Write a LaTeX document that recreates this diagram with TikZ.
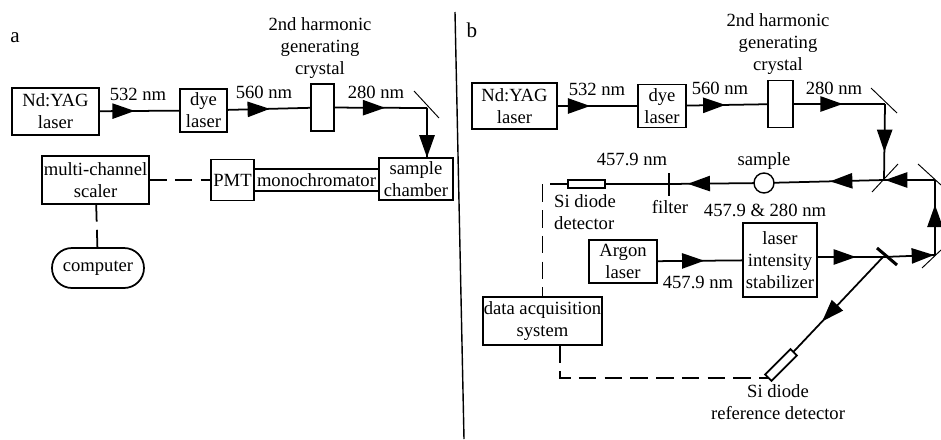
\documentclass[tikz,border=0pt]{standalone}
\usepackage{fontspec}
\setmainfont{Liberation Serif}
\usepackage{tikz}
\usetikzlibrary{arrows.meta,positioning,decorations.markings}

\begin{document}
\begin{tikzpicture}[x=0.03cm,y=-0.03cm,
  every node/.style={font=\fontsize{15.9}{18.9}\selectfont,align=center,inner sep=0pt,outer sep=0pt},
  box/.style 2 args={draw,line width=1.5pt,minimum width=#1,minimum height=#2},
  beam/.style={line width=1.5pt,postaction={decorate,decoration={markings,
    mark=at position #1 with {\arrow{Triangle[length=19pt,width=13pt]}}}}},
  sig/.style={line width=1.5pt,dash pattern=on 15pt off 7pt},
  mirr/.style={line width=0.8pt}]
\useasboundingbox (0,0) rectangle (941,439);
\draw[line width=1.2pt] (455,12) coordinate (divtop) -- (464,439) coordinate (divbot);
\node (labA) at (15,38) {\fontsize{18}{20}\selectfont a};
\node (labB) at (472,30) {\fontsize{18}{20}\selectfont b};
\node[box={2.61cm}{1.41cm}] (yagA) at (55.5,111.5) {Nd:YAG\\laser};
\node[box={1.41cm}{1.29cm},right=2.43cm of yagA,yshift=.03cm] (dyeA) {dye\\laser};
\node[box={0.69cm}{1.41cm},right=2.52cm of dyeA,yshift=.09cm] (cryA) {};
\coordinate (mA) at (427,108);
\node[box={2.22cm}{1.26cm}] (chamA) at (416,179) {sample\\chamber};
\node[box={3.75cm}{0.66cm},left=0cm of chamA,yshift=-.03cm] (monoA) {monochromator};
\node[box={1.29cm}{1.23cm},left=0cm of monoA] (pmtA) {PMT};
\node[box={3.21cm}{1.44cm},left=1.86cm of pmtA] (mcsA) {multi-channel\\scaler};
\node[box={2.76cm}{1.2cm},rounded corners=0.6cm,below=1.32cm of mcsA,xshift=.075cm] (compA) {computer};
\node (hgA) at (320,48) {2nd harmonic\\generating\\crystal};
\node (w1A) at (138,94) {532 nm};
\node (w2A) at (264,92) {560 nm};
\node (w3A) at (376,92) {280 nm};
\draw[beam=.44] (yagA)--(dyeA);
\draw[beam=.51] (dyeA)--(cryA);
\draw[beam=.55] (cryA)--(mA);
\draw[mirr] (mA) +(-13,-17) -- +(12,10);
\draw[beam=.99] (mA)--(mA |- chamA.north);
\draw[sig] (mcsA)--(pmtA);
\draw[sig] (mcsA)--(compA);
\node[box={2.55cm}{1.38cm}] (yagB) at (514.5,106) {Nd:YAG\\laser};
\node[box={1.44cm}{1.29cm},right=2.43cm of yagB] (dyeB) {dye\\laser};
\node[box={0.75cm}{1.41cm},right=2.46cm of dyeB,yshift=.06cm] (cryB) {};
\coordinate (m1B) at (885,104);
\coordinate (spB) at (884,180);
\coordinate (m2B) at (935,180);
\coordinate (m3B) at (935,255);
\coordinate (sp2B) at (883,257);
\node (hgB) at (778,44) {2nd harmonic\\generating\\crystal};
\node (w1B) at (597,89) {532 nm};
\node (w2B) at (720,88) {560 nm};
\node (w3B) at (834,88) {280 nm};
\draw[beam=.41] (yagB)--(dyeB);
\draw[beam=.48] (dyeB)--(cryB);
\draw[beam=.54] (cryB)--(m1B);
\draw[mirr] (m1B) +(-14,-16) -- +(12,9);
\draw[beam=.63] (m1B)--(spB);
\draw[mirr] (spB) +(-12,12) -- +(14,-16);
\draw[mirr] (m2B) +(-17,-16) -- +(6,5);
\draw[mirr] (m3B) +(-13,13) -- +(6,-5);
\draw[beam=.67] (m3B)--(m2B);
\draw[beam=.98] (m2B)--(spB);
\node[draw,line width=1.2pt,circle,minimum size=0.6cm] (samB) at (764,183) {};
\node (samlB) at (764,161) {sample};
\coordinate (filB) at (669,184);
\draw[line width=1.2pt] (filB) +(0,-11) -- +(0,12);
\node[box={1.11cm}{0.24cm}] (siB) at (586.5,184) {};
\draw[beam=.49] (spB)--(samB);
\draw[beam=.78] (samB)--(filB);
\draw[line width=1.5pt] (filB)--(siB);
\node (w4B) at (632,159) {457.9 nm};
\node (filtB) at (670,207) {filter};
\node (w5B) at (765,210) {457.9 \& 280 nm};
\node[align=left] (silB) at (585,212) {Si diode\\detector};
\node[box={2.04cm}{1.29cm}] (argB) at (623,261.5) {Argon\\laser};
\node[box={2.22cm}{2.22cm},right=2.58cm of argB,yshift=.045cm] (stabB) {laser\\intensity\\stabilizer};
\node (w6B) at (698,282) {457.9 nm};
\draw[beam=.55] (argB)--(stabB);
\draw[beam=.59] (sp2B -| stabB.east)--(sp2B);
\draw[beam=.98] (sp2B)--(m3B);
\draw[line width=2.6pt] (sp2B) +(-6,-9) -- +(14,8);
\node[box={3.57cm}{1.44cm}] (dataB) at (542.5,321) {data acquisition\\system};
\node[box={1.08cm}{0.27cm},rotate=45] (detB) at (781,365) {};
\node (detlB) at (778,402.5) {Si diode\\reference detector};
\coordinate (outB) at (560,345);
\draw[beam=.68] (sp2B)--(detB);
\draw[sig] (siB)-|(dataB);
\draw[sig] (outB)|-(detB.west);
\end{tikzpicture}
\end{document}
